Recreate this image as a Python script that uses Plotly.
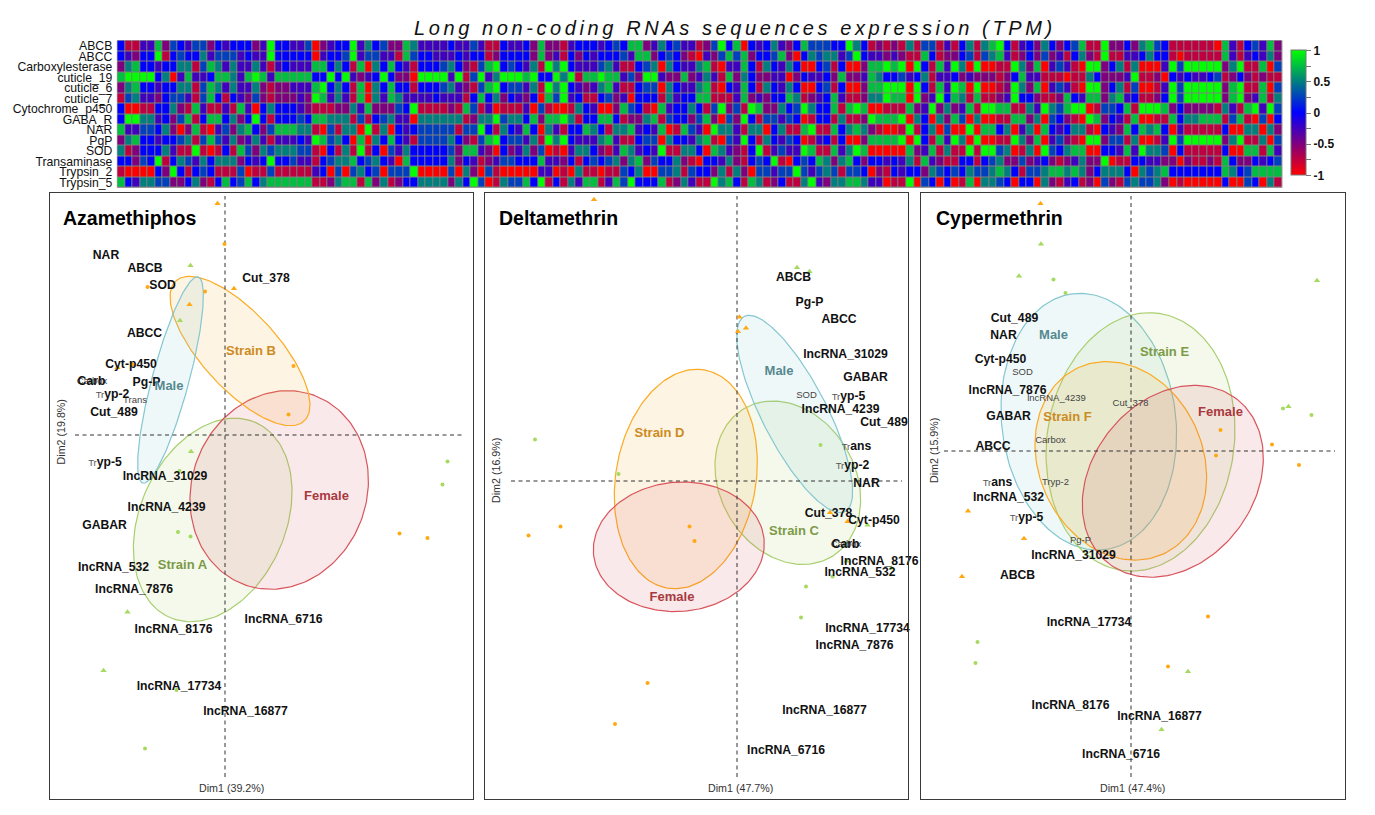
import numpy as np
import plotly.graph_objects as go

W, H = 1375, 815
FONT = "Liberation Sans"

# ---------- heatmap data: one digit per cell, 0 = -1 ... 4 = 0 ... 8 = +1 ----------
HEAT_ROWS = ["ABCB", "ABCC", "Carboxylesterase", "cuticle_19", "cuticle_6", "cuticle_7", "Cytochrome_p450",
             "GABA_R", "NAR", "PgP", "SOD", "Transaminase", "Trypsin_2", "Trypsin_5"]
ABCB = ["4113372543 5524344423 8443350234 4836452276 3333433531 1",
        "4334272213 4443454772 3645331258 4704346324 7555448641 21",
        "2161551314 6167841342 6424571182 2426754111 1110731453 72"]
ABCC = ["4324481454 4635553433 8444440344 5835533175 4433343441 2",
        "4444272314 2434445377 2454210325 7572445720 4656635843 32",
        "3211741224 5156731242 5231462181 1334644101 1111731343 62"]
CARB = ["2674434466 1576363363 1343337746 4170647431 4445642157 8",
        "4543618684 3335631145 6064336710 3374164364 0045140027 78",
        "7808417386 0800118627 0353108824 6160003858 8888268117 05"]
CUT19 = ["7888846037 3347763787 3777774484 8323484220 8888381583 6",
         "8887844868 1778773528 8322723631 7264223302 4334272237 64",
         "4534613342 3222124733 1110116422 2381120434 3345124212 11"]
CUT6 = ["2674434466 1576363362 1223337846 4170647441 4445632157 8",
        "4553618684 3236731145 5064336710 4374164364 0045140027 78",
        "8808417387 0800128627 0353108824 6150013858 8888278117 05"]
CUT7 = ["1563324553 1574143252 1222328736 3170637633 3343331474 6",
        "2432407583 4114523044 4163447711 1372324476 1234731126 68",
        "7708238476 1711238442 1127437726 7341124858 8888278237 16"]
CYP = ["4001144621 7311317304 6444321112 2637222548 1111217513 0",
       "1113051001 6430027541 0734464158 2518722645 8644717870 01",
       "1172382623 7188771163 8657880155 4718887242 2221631783 85"]
GABA = ["4886634257 1477462484 1444547766 6151456330 6666661266 8",
        "5664727786 1447741226 7154425720 5284155354 0144161128 77",
        "7806406275 0600117726 0542108724 3170011746 6777157105 04"]
NAR = ["7335546202 7103526742 5777661051 6608160434 5555515584 1",
       "6437406314 4764166734 3701753086 6316604611 7811746762 10",
       "0181460500 8077460360 7434661043 2747674031 1111400660 62"]
PGP = ["2674434456 1575362363 1333438756 4070647431 5555642157 8",
       "4553618684 3336731145 5064436710 5384164354 0134140027 77",
       "7808417386 0800118627 0352108825 5160013858 8888268116 05"]
SOD = ["6124446311 8101417526 5666551041 6181405364 4444527732 0",
       "4236250103 6642137634 3811664076 3214813533 8711736870 00",
       "0072371611 8188560160 8546770044 3738665041 1111400771 73"]
TRANS = ["4425481465 3646662434 8445331456 6745643074 4444624312 3",
         "5544473324 1454562672 5446210443 6214548104 5476267424 43",
         "4361732114 4145622523 4212362280 1144332202 1121742243 45"]
TRYP2 = ["1000042841 4541115011 5111113405 0564505558 0000506205 1",
         "0000033010 6110115460 0556154426 1620553558 5356515540 21",
         "4344265454 6556764155 6776762466 6406567444 4444764577 77"]
TRYP5 = ["7436655224 6214745746 7777771126 7717261244 6666264850 1",
         "6557481416 3771375844 4712631186 7417612411 6832667763 30",
         "1180540401 7066540440 6213412052 1565562010 0000400540 61"]
LEVELS = [ABCB, ABCC, CARB, CUT19, CUT6, CUT7, CYP, GABA, NAR, PGP, SOD, TRANS, TRYP2, TRYP5]
COLOR_TICKS = [1, 0.75, 0.5, 0.25, 0, -0.25, -0.5, -0.75, -1]
COLOR_TICK_TEXT = ["1", "", "0.5", "", "0", "", "-0.5", "", "-1"]

# ---------- biplot data (Dim1, Dim2) ----------
P1_ORANGE_TRI = ([-0.15, 0.18, -0.71, -2.15], [4.63, 2.93, 2.61, 1.35])
P1_ORANGE_DOT = ([-0.01, -1.55, -0.40, 1.37, 1.27, -1.85, 3.49, 4.05], [3.82, 2.96, 2.87, 1.38, 0.41, 1.41, -1.97, -2.06])
P1_GREEN_TRI = ([-0.69, -0.90, -0.68, -1.95, -2.43], [3.39, 2.29, -0.33, -3.54, -4.71])
P1_GREEN_DOT = ([-0.91, 4.45, 4.35, -0.94, -0.69, -1.60, -0.97], [-0.72, -0.53, -0.99, -1.94, -2.03, -6.27, -5.10])
P1_NAMES = ["NAR", "ABCB", "SOD", "Cut_378", "ABCC", "Cyt-p450", "Carb", "Pg-P", "Tryp-2", "Cut_489", "Tryp-5",
            "lncRNA_31029", "lncRNA_4239", "GABAR", "lncRNA_532", "lncRNA_7876", "lncRNA_6716", "lncRNA_8176",
            "lncRNA_17734", "lncRNA_16877"]
P1_X = [-2.38, -1.60, -1.25, 0.82, -1.61, -1.88, -2.67, -1.57, -2.25, -2.22, -2.40, -1.20, -1.17, -2.41, -2.23,
        -1.82, 1.17, -1.03, -0.92, 0.41]
P1_Y = [3.58, 3.33, 2.99, 3.12, 2.02, 1.41, 1.07, 1.05, 0.80, 0.44, -0.55, -0.84, -1.45, -1.81, -2.66, -3.09,
        -3.70, -3.89, -5.04, -5.53]
P1_SMALL = (["Carbox", "Trans"], [-2.66, -1.80], [1.06, 0.69])
P1_GROUPS = (["Strain B", "Male", "Female", "Strain A"], [0.52, -1.12, 2.03, -0.85], [1.67, 0.97, -1.24, -2.61])
P1_ELLIPSES = [("Strain A", -0.246, -1.70, 2.13, 1.456, 23.9), ("Female", 1.084, -1.10, 2.018, 1.748, 20.8),
               ("Strain B", 0.30, 1.68, 1.90, 0.76, -42.4), ("Male", -1.09, 1.10, 2.134, 0.368, 15.0)]

P2_ORANGE_TRI = ([-2.86, 0.05, 0.18, 0.02, 1.86, 2.21], [5.63, 3.28, 3.06, 2.99, -0.63, -0.81])
P2_ORANGE_DOT = ([-3.53, -4.17, -0.95, -0.85, -1.79, -2.44], [-0.91, -1.09, -0.91, -1.20, -4.04, -4.86])
P2_GREEN_TRI = ([1.20, 1.45, 2.61, 2.19, 3.09], [4.27, 4.19, -0.88, -1.60, -1.74])
P2_GREEN_DOT = ([-4.04, -2.37, 1.67, 1.91, 1.38, 1.28], [0.83, 0.14, 0.72, -1.91, -2.11, -2.73])
P2_NAMES = ["ABCB", "Pg-P", "ABCC", "lncRNA_31029", "GABAR", "Tryp-5", "lncRNA_4239", "Cut_489", "Trans", "Tryp-2",
            "NAR", "Cut_378", "Cyt-p450", "Carb", "lncRNA_8176", "lncRNA_532", "lncRNA_17734", "lncRNA_7876",
            "lncRNA_16877", "lncRNA_6716"]
P2_X = [1.13, 1.45, 2.04, 2.17, 2.57, 2.23, 2.07, 2.94, 2.39, 2.31, 2.59, 1.83, 2.74, 2.17, 2.85, 2.46, 2.61, 2.35,
        1.75, 0.98]
P2_Y = [4.07, 3.56, 3.22, 2.52, 2.06, 1.69, 1.42, 1.17, 0.69, 0.31, -0.06, -0.65, -0.80, -1.27, -1.61, -1.84, -2.95,
        -3.29, -4.59, -5.39]
P2_SMALL = (["SOD", "Carbox"], [1.39, 2.18], [1.70, -1.27])
P2_GROUPS = (["Male", "Strain D", "Strain C", "Female"], [0.84, -1.55, 1.14, -1.30], [2.18, 0.94, -1.01, -2.33])
P2_ELLIPSES = [("Strain C", 1.016, -0.034, 1.72, 1.354, -30.4), ("Strain D", -1.024, 0.04, 2.212, 1.402, 9.5),
               ("Female", -1.164, -1.316, 1.712, 1.292, 85.3), ("Male", 1.154, 1.34, 2.196, 0.646, -27.3)]

P3_ORANGE_TRI = ([-1.81, -3.26, -2.14, -3.38], [4.95, -1.20, -1.75, -2.51])
P3_ORANGE_DOT = ([1.79, 2.82, 1.70, 3.36, 1.54, 0.74], [0.42, 0.13, -0.09, -0.28, -3.31, -4.31])
P3_GREEN_TRI = ([-1.80, -2.24, 3.72, 3.15, 1.14, 0.61], [4.14, 3.50, 3.41, 0.89, -4.41, -5.57])
P3_GREEN_DOT = ([-1.55, -1.31, 3.04, 3.61, -3.07, -3.11], [3.43, 3.16, 0.85, 0.72, -3.82, -4.24])
P3_NAMES = ["Cut_489", "NAR", "Cyt-p450", "lncRNA_7876", "GABAR", "ABCC", "Trans", "lncRNA_532", "Tryp-5",
            "lncRNA_31029", "ABCB", "lncRNA_17734", "lncRNA_8176", "lncRNA_16877", "lncRNA_6716"]
P3_X = [-2.33, -2.55, -2.61, -2.47, -2.45, -2.76, -2.67, -2.45, -2.09, -1.15, -2.27, -0.84, -1.21, 0.57, -0.20]
P3_Y = [2.65, 2.31, 1.83, 1.20, 0.69, 0.08, -0.63, -0.93, -1.33, -2.10, -2.50, -3.43, -5.09, -5.32, -6.08]
P3_SMALL = (["SOD", "lncRNA_4239", "Cut_378", "Carbox", "Tryp-2", "Pg-P"],
            [-2.17, -1.49, -0.01, -1.61, -1.51, -1.01], [1.56, 1.04, 0.95, 0.21, -0.64, -1.79])
P3_GROUPS = (["Male", "Strain E", "Strain F", "Female"], [-1.55, 0.67, -1.27, 1.79], [2.31, 1.97, 0.67, 0.77])
P3_ELLIPSES = [("Male", -0.844, 0.586, 2.578, 1.74, -7.2), ("Strain E", 0.19, 0.182, 2.596, 1.872, 8.2),
               ("Strain F", -0.204, -0.196, 2.048, 1.64, -24.3), ("Female", 0.836, -0.606, 2.084, 1.618, 38.2)]

# ---------- styles ----------
ORANGE, GREEN = "#ffa812", "#a6d95f"
FAMILY = {"Male": ("#84c7d0", "rgba(132,199,208,0.13)", "#55898f"),
          "Female": ("#d8555d", "rgba(216,85,93,0.13)", "#a8393f"),
          "A": ("#a9cf70", "rgba(169,207,112,0.13)", "#7d9a47"),
          "B": ("#fbab24", "rgba(251,171,36,0.13)", "#cc8b22")}
KIND = {"Male": "Male", "Female": "Female", "Strain A": "A", "Strain C": "A", "Strain E": "A",
        "Strain B": "B", "Strain D": "B", "Strain F": "B"}


def fx(px):
    return px / W


def fy(px):
    return 1 - px / H


def rich(name):
    if name in ("Tryp-2", "Tryp-5"):
        return "<span style='font-size:9.5px;font-weight:normal;color:#555'>Tr</span>" + name[2:]
    if name == "Trans":
        return "<span style='font-size:9.5px;font-weight:normal;color:#555'>Tr</span>ans"
    return name


fig = go.Figure()

# heatmap
z = []
for parts in LEVELS:
    digits = "".join(parts).replace(" ", "")
    assert len(digits) == 155, len(digits)
    z.append([(int(c) - 4) / 4 for c in digits])
fig.add_trace(go.Heatmap(
    z=z, y=HEAT_ROWS, xaxis="x", yaxis="y", xgap=1, ygap=1, zmin=-1, zmax=1,
    colorscale=[[0, "#ff0000"], [0.25, "#7f007f"], [0.5, "#0000ff"], [0.75, "#007f7f"], [1, "#00ff00"]],
    colorbar=dict(x=fx(1291), xanchor="left", y=fy(50.5), yanchor="top", len=124.5, lenmode="pixels",
                  thickness=15, thicknessmode="pixels", xpad=0, ypad=0, outlinecolor="#777", outlinewidth=1,
                  tickmode="array", tickvals=COLOR_TICKS, ticktext=COLOR_TICK_TEXT, ticks="outside", ticklen=5,
                  tickcolor="#777", tickwidth=1,
                  tickfont=dict(family=FONT, size=12, color="#111", weight="bold")),
    hoverinfo="skip"))

PANELS = [
    dict(box=(50, 473), origin=(225, 435), hline=(-3.0, 4.8), vline=(-6.84, 4.78), tri_o=P1_ORANGE_TRI, dot_o=P1_ORANGE_DOT,
         tri_g=P1_GREEN_TRI, dot_g=P1_GREEN_DOT, names=P1_NAMES, x=P1_X, y=P1_Y, small=P1_SMALL, groups=P1_GROUPS,
         ell=P1_ELLIPSES, title="Azamethiphos", tx=61, d1="Dim1 (39.2%)", d1x=231.7, d2="Dim2 (19.8%)", d2x=60.7, d2y=431.7),
    dict(box=(485, 908), origin=(737, 481), hline=(-4.52, 3.3), vline=(-5.92, 5.7), tri_o=P2_ORANGE_TRI, dot_o=P2_ORANGE_DOT,
         tri_g=P2_GREEN_TRI, dot_g=P2_GREEN_DOT, names=P2_NAMES, x=P2_X, y=P2_Y, small=P2_SMALL, groups=P2_GROUPS,
         ell=P2_ELLIPSES, title="Deltamethrin", tx=497, d1="Dim1 (47.7%)", d1x=740.7, d2="Dim2 (16.9%)", d2x=496, d2y=471),
    dict(box=(921, 1345), origin=(1131, 451), hline=(-3.74, 4.08), vline=(-6.52, 5.1), tri_o=P3_ORANGE_TRI, dot_o=P3_ORANGE_DOT,
         tri_g=P3_GREEN_TRI, dot_g=P3_GREEN_DOT, names=P3_NAMES, x=P3_X, y=P3_Y, small=P3_SMALL, groups=P3_GROUPS,
         ell=P3_ELLIPSES, title="Cypermethrin", tx=933.5, d1="Dim1 (47.4%)", d1x=1132.7, d2="Dim2 (15.9%)", d2x=933.3, d2y=450.7),
]

TOP, BOTTOM = 193, 799
SCALE = 50.0
annotations = []
layout_axes = {}
theta = np.linspace(0, 2 * np.pi, 181)

for i, p in enumerate(PANELS):
    n = i + 2
    xa, ya = f"x{n}", f"y{n}"
    x0, x1 = p["box"]
    ox, oy = p["origin"]
    layout_axes[f"xaxis{n}"] = dict(domain=[fx(x0), fx(x1)], range=[(x0 - ox) / SCALE, (x1 - ox) / SCALE], anchor=ya,
                                    showgrid=False, zeroline=False, showticklabels=False, ticks="",
                                    showline=True, mirror=True, linecolor="#3a3a3a", linewidth=1)
    layout_axes[f"yaxis{n}"] = dict(domain=[fy(BOTTOM), fy(TOP)], range=[(oy - BOTTOM) / SCALE, (oy - TOP) / SCALE], anchor=xa,
                                    showgrid=False, zeroline=False, showticklabels=False, ticks="",
                                    showline=True, mirror=True, linecolor="#3a3a3a", linewidth=1)
    # ellipses
    for name, cx, cy, a, b, tilt in p["ell"]:
        t = np.radians(tilt)
        ex = cx + a * np.sin(t) * np.cos(theta) + b * np.cos(t) * np.sin(theta)
        ey = cy + a * np.cos(t) * np.cos(theta) - b * np.sin(t) * np.sin(theta)
        line, fill, _ = FAMILY[KIND[name]]
        fig.add_trace(go.Scatter(x=ex, y=ey, xaxis=xa, yaxis=ya, mode="lines", fill="toself", fillcolor=fill,
                                 line=dict(color=line, width=1.2), hoverinfo="skip", showlegend=False))
    # dashed axes
    fig.add_trace(go.Scatter(x=list(p["hline"]), y=[0, 0], xaxis=xa, yaxis=ya, mode="lines",
                             line=dict(color="#333", width=1, dash="4px,3.5px"), hoverinfo="skip", showlegend=False))
    fig.add_trace(go.Scatter(x=[0, 0], y=list(p["vline"]), xaxis=xa, yaxis=ya, mode="lines",
                             line=dict(color="#333", width=1, dash="4px,3.5px"), hoverinfo="skip", showlegend=False))
    # points
    for key, color, symbol, size in (("tri_o", ORANGE, "triangle-up", 5.5), ("dot_o", ORANGE, "circle", 4),
                                     ("tri_g", GREEN, "triangle-up", 5.5), ("dot_g", GREEN, "circle", 4)):
        fig.add_trace(go.Scatter(x=p[key][0], y=p[key][1], xaxis=xa, yaxis=ya, mode="markers",
                                 marker=dict(color=color, symbol=symbol, size=size, line=dict(width=0)),
                                 hoverinfo="skip", showlegend=False))
    # labels
    names, sx, sy = p["small"]
    fig.add_trace(go.Scatter(x=sx, y=sy, text=names, xaxis=xa, yaxis=ya, mode="text", cliponaxis=False,
                             textfont=dict(family=FONT, size=9.5, color="#444"), hoverinfo="skip", showlegend=False))
    fig.add_trace(go.Scatter(x=p["x"], y=p["y"], text=[rich(s) for s in p["names"]], xaxis=xa, yaxis=ya, mode="text",
                             cliponaxis=False, textfont=dict(family=FONT, size=12.2, color="#111", weight="bold"),
                             hoverinfo="skip", showlegend=False))
    gn, gx, gy = p["groups"]
    fig.add_trace(go.Scatter(x=gx, y=gy, text=gn, xaxis=xa, yaxis=ya, mode="text", cliponaxis=False,
                             textfont=dict(family=FONT, size=13, weight="bold",
                                           color=[FAMILY[KIND[g]][2] for g in gn]),
                             hoverinfo="skip", showlegend=False))
    annotations.append(dict(text=p["title"], x=fx(p["tx"]), y=fy(217.5), xref="paper", yref="paper", xanchor="left",
                            yanchor="middle", showarrow=False, font=dict(family=FONT, size=19.5, color="#000", weight="bold")))
    annotations.append(dict(text=p["d1"], x=fx(p["d1x"]), y=fy(787.5), xref="paper", yref="paper", xanchor="center",
                            yanchor="middle", showarrow=False, font=dict(family=FONT, size=10.7, color="#333")))
    annotations.append(dict(text=p["d2"], x=fx(p["d2x"]), y=fy(p["d2y"]), xref="paper", yref="paper", xanchor="center",
                            yanchor="middle", showarrow=False, textangle=-90, font=dict(family=FONT, size=10.7, color="#333")))

annotations.append(dict(text="<span style='letter-spacing:3.6px'>Long non-coding RNAs sequences expression (TPM)</span>",
                        x=fx(734.5), y=fy(28), xref="paper", yref="paper", xanchor="center", yanchor="middle",
                        showarrow=False, font=dict(family=FONT, size=20, color="#111", style="italic")))

fig.update_layout(
    width=W, height=H, margin=dict(l=0, r=0, t=0, b=0, autoexpand=False), showlegend=False,
    paper_bgcolor="white", plot_bgcolor="white",
    xaxis=dict(domain=[fx(117.3), fx(1282)], showgrid=False, zeroline=False, showticklabels=False, ticks="", anchor="y",
               range=[-0.5, 154.5]),
    yaxis=dict(domain=[fy(187.5), fy(40.5)], autorange="reversed", anchor="x", showgrid=False, zeroline=False, ticks="",
               tickmode="array", tickvals=HEAT_ROWS, ticktext=HEAT_ROWS, ticklabelstandoff=4,
               tickfont=dict(family=FONT, size=12.2, color="#111")),
    annotations=annotations,
    shapes=[dict(type="rect", xref="x domain", yref="y domain", x0=0, x1=1, y0=0, y1=1, layer="below",
                 fillcolor="#808080", line=dict(color="#999", width=1))],
    **layout_axes,
)

fig.write_html("out.html", config={"displayModeBar": False},
               post_script="document.body.style.margin='0';document.body.style.overflow='hidden';")
